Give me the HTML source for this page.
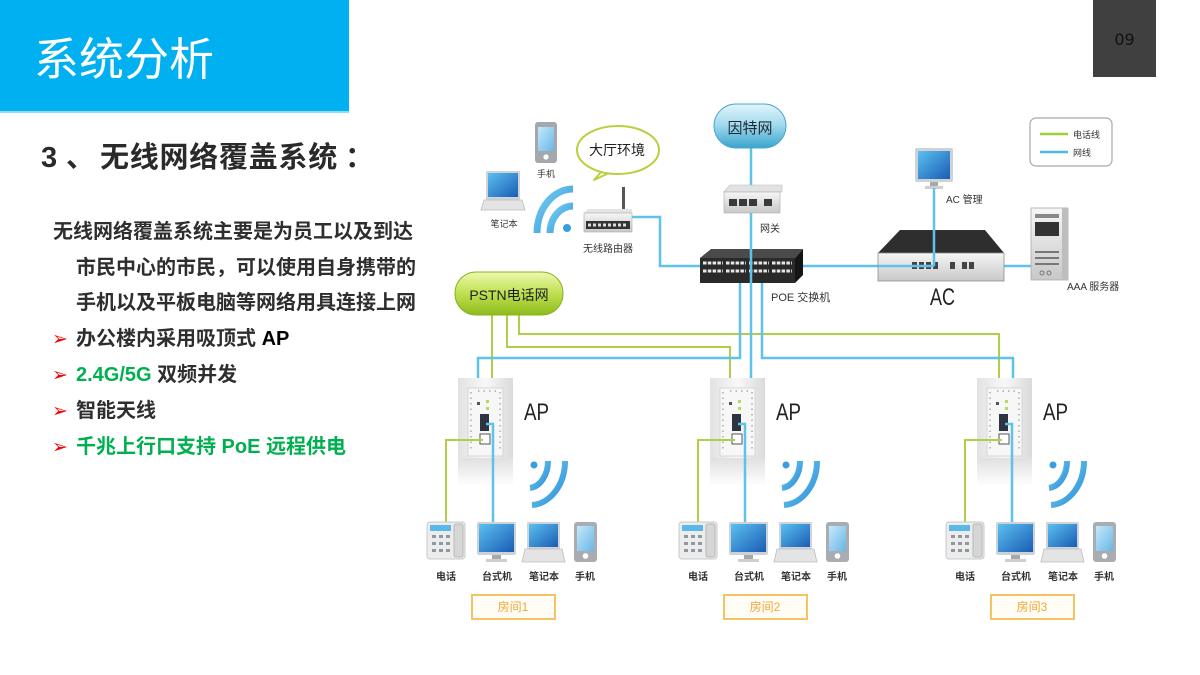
<!DOCTYPE html>
<html><head><meta charset="utf-8">
<style>
body{margin:0;width:1200px;height:675px;position:relative;overflow:hidden;background:#fff;font-family:"Liberation Sans","Noto Sans CJK SC",sans-serif;}
.hdr{position:absolute;left:0;top:0;width:349px;height:111px;background:#00b0f0;border-bottom:2px solid #8fdaf6;}
.title{position:absolute;left:34px;top:33px;font-size:45px;line-height:45px;color:#fff;font-family:"Noto Sans CJK SC",sans-serif;white-space:nowrap;}
.pg{position:absolute;left:1093px;top:0;width:63px;height:77px;background:#404040;color:#111;font-size:16px;text-align:center;line-height:80px;font-family:"DejaVu Sans",sans-serif;}
.sub{position:absolute;top:144px;font-size:29px;line-height:29px;color:#2a2a2a;font-weight:bold;white-space:nowrap;font-family:"Liberation Sans","Noto Sans CJK SC",sans-serif;}
.ln{position:absolute;font-size:20px;line-height:20px;color:#2e2e2e;font-weight:bold;white-space:nowrap;font-family:"Liberation Sans","Noto Sans CJK SC",sans-serif;}
.bl{position:absolute;left:52px;font-size:19px;line-height:20px;color:#ff0000;font-family:"DejaVu Sans",sans-serif;}
.g{color:#00b050;}
.k{color:#000;}
</style></head>
<body>
<div class="hdr"></div>
<div class="title">系统分析</div>
<div class="pg">09</div>

<div class="sub" style="left:41px">3</div>
<div class="sub" style="left:66px">、</div>
<div class="sub" style="left:100px;letter-spacing:0.75px">无线网络覆盖系统</div>
<div class="sub" style="left:345px">：</div>

<div class="ln" style="left:53px;top:222px">无线网络覆盖系统主要是为员工以及到达</div>
<div class="ln" style="left:76px;top:258px">市民中心的市民，可以使用自身携带的</div>
<div class="ln" style="left:76px;top:293px">手机以及平板电脑等网络用具连接上网</div>
<div class="bl" style="top:329px">➢</div>
<div class="ln" style="left:76px;top:329px">办公楼内采用吸顶式 <span class="k">AP</span></div>
<div class="bl" style="top:365px">➢</div>
<div class="ln" style="left:76px;top:365px"><span class="g">2.4G/5G</span> 双频并发</div>
<div class="bl" style="top:401px">➢</div>
<div class="ln" style="left:76px;top:401px">智能天线</div>
<div class="bl" style="top:437px">➢</div>
<div class="ln g" style="left:76px;top:437px">千兆上行口支持 PoE 远程供电</div>

<svg width="1200" height="675" viewBox="0 0 1200 675" style="position:absolute;left:0;top:0" font-family="Liberation Sans, Noto Sans CJK SC, sans-serif">
<defs>
<linearGradient id="gCloud" x1="0" y1="0" x2="0" y2="1"><stop offset="0" stop-color="#e2f5fb"/><stop offset=".45" stop-color="#a6dcef"/><stop offset="1" stop-color="#3aa3cd"/></linearGradient>
<linearGradient id="gPstn" x1="0" y1="0" x2="0" y2="1"><stop offset="0" stop-color="#eef8b0"/><stop offset=".5" stop-color="#bfe050"/><stop offset="1" stop-color="#8dbb1c"/></linearGradient>
<linearGradient id="gScr" x1="0" y1="0" x2="1" y2="1"><stop offset="0" stop-color="#5bc0ef"/><stop offset="1" stop-color="#1a5cb5"/></linearGradient>
<linearGradient id="gMob" x1="0" y1="0" x2="1" y2="1"><stop offset="0" stop-color="#c6e8fa"/><stop offset="1" stop-color="#6ab6e6"/></linearGradient>
<linearGradient id="gAP" x1="0" y1="0" x2="1" y2="0"><stop offset="0" stop-color="#e2e2e2"/><stop offset=".5" stop-color="#f8f8f8"/><stop offset="1" stop-color="#dadada"/></linearGradient>
<linearGradient id="gRefl" x1="0" y1="0" x2="0" y2="1"><stop offset="0" stop-color="#e0e0e0"/><stop offset="1" stop-color="#ffffff"/></linearGradient>
<linearGradient id="gWifi" x1="0" y1="0" x2="1" y2="1"><stop offset="0" stop-color="#7ad0f2"/><stop offset="1" stop-color="#2a8fd8"/></linearGradient>
<linearGradient id="gGray" x1="0" y1="0" x2="0" y2="1"><stop offset="0" stop-color="#f6f6f6"/><stop offset="1" stop-color="#c8c8c8"/></linearGradient>
<g id="room">
  <rect x="458" y="458" width="55" height="28" fill="url(#gRefl)"/>
  <rect x="458" y="378" width="55" height="80" fill="url(#gAP)"/>
  <rect x="468" y="388" width="35" height="68" fill="#f7f7f7" stroke="#cfcfcf" stroke-width="0.8"/>
  <g stroke="#9a9a9a" stroke-width="1.2">
    <line x1="471" y1="392" x2="471" y2="452" stroke-dasharray="1.5 4"/>
    <line x1="500" y1="392" x2="500" y2="452" stroke-dasharray="1.5 4"/>
    <line x1="478" y1="391" x2="496" y2="391" stroke-dasharray="1.5 4"/>
  </g>
  <rect x="477" y="402" width="3" height="3" fill="#555"/>
  <rect x="486" y="400" width="3" height="3" fill="#b8d860"/>
  <rect x="486" y="407" width="3" height="3" fill="#b8d860"/>
  <rect x="480" y="414" width="9" height="17" fill="#2c3440"/>
  <rect x="480" y="434" width="10" height="10" fill="#fff" stroke="#555" stroke-width="1"/>
  <path d="M548 461 A20 27 0 0 1 530 488" fill="none" stroke="url(#gWifi)" stroke-width="6"/>
  <path d="M565 461 A35 44 0 0 1 532 505" fill="none" stroke="url(#gWifi)" stroke-width="6"/>
  <circle cx="534" cy="465" r="3.5" fill="#3a9ede"/>
  <path d="M486 424 H493 V522" fill="none" stroke="#5ec2ea" stroke-width="2.5"/>
  <path d="M483 440 H446 V522" fill="none" stroke="#afd046" stroke-width="2"/>
  <rect x="427" y="522" width="38" height="37" rx="3" fill="#ececec" stroke="#c8c8c8"/>
  <rect x="430" y="525" width="21" height="6" fill="#5ab8e8"/>
  <g fill="#8e98a0">
    <rect x="432" y="535" width="4" height="3"/><rect x="439" y="535" width="4" height="3"/><rect x="446" y="535" width="4" height="3"/>
    <rect x="432" y="542" width="4" height="3"/><rect x="439" y="542" width="4" height="3"/><rect x="446" y="542" width="4" height="3"/>
    <rect x="432" y="549" width="4" height="3"/><rect x="439" y="549" width="4" height="3"/><rect x="446" y="549" width="4" height="3"/>
  </g>
  <rect x="454" y="524" width="9" height="33" rx="2" fill="#d6d6d6" stroke="#b8b8b8"/>
  <rect x="477" y="522" width="39" height="33" rx="2" fill="#cdd2d7"/>
  <rect x="479" y="524" width="35" height="28" fill="url(#gScr)"/>
  <rect x="492" y="555" width="9" height="4" fill="#a8a8a8"/>
  <rect x="486" y="559" width="21" height="3" fill="#cfcfcf"/>
  <rect x="527" y="522" width="33" height="27" rx="1.5" fill="#d0d4d8"/>
  <rect x="529" y="524" width="29" height="23" fill="url(#gScr)"/>
  <polygon points="525,549 562,549 565,562 522,562" fill="#e4e4e4" stroke="#bcbcbc" stroke-width="0.8"/>
  <rect x="574" y="522" width="23" height="40" rx="3" fill="#a9adb1"/>
  <rect x="577" y="526" width="17" height="25" fill="url(#gMob)"/>
  <circle cx="585.5" cy="556" r="2.8" fill="#fff"/>
  <rect x="472" y="595" width="83" height="24" fill="#fffdf6" stroke="#f5c462" stroke-width="2"/>
</g>
</defs>

<g fill="none" stroke="#afd046" stroke-width="2">
  <path d="M492 315 V380"/>
  <path d="M507 315 V347 H730 V380"/>
  <path d="M519 315 V334 H999 V380"/>
</g>
<g fill="none" stroke="#5ec2ea" stroke-width="2.5">
  <path d="M751 148 V249"/>
  <path d="M632 217 H660 V266 H700"/>
  <path d="M803 266 H878"/>
  <path d="M1004 266 H1032"/>
  <path d="M740 283 V358 H478 V380"/>
  <path d="M751 283 V380"/>
  <path d="M762 283 V358 H1013 V380"/>
</g>

<rect x="714" y="104" width="72" height="44" rx="22" fill="url(#gCloud)" stroke="#4aa6cc" stroke-width="1"/>
<text x="750" y="133" font-size="15" text-anchor="middle" fill="#1e2a30">因特网</text>

<polygon points="724,192 730,185 782,185 782,192" fill="#e2e2e2" stroke="#bbb" stroke-width="0.6"/>
<rect x="724" y="192" width="56" height="21" fill="url(#gGray)" stroke="#aaa" stroke-width="0.6"/>
<g fill="#3a3a3a"><rect x="729" y="199" width="8" height="7"/><rect x="739" y="199" width="8" height="7"/><rect x="749" y="199" width="8" height="7"/><rect x="764" y="199" width="8" height="7"/></g>
<text x="770" y="232" font-size="10" text-anchor="middle" fill="#333">网关</text>

<polygon points="700,258 711,249 803,249 795,258" fill="#4a4a4a"/>
<rect x="700" y="258" width="95" height="25" fill="#2a2a2a"/>
<polygon points="795,258 803,249 803,275 795,283" fill="#151515"/>
<g stroke="#e8e8e8" stroke-width="3" stroke-dasharray="3.5 1.3">
  <line x1="703" y1="263" x2="723" y2="263"/><line x1="726" y1="263" x2="746" y2="263"/><line x1="749" y1="263" x2="769" y2="263"/><line x1="772" y1="263" x2="792" y2="263"/>
  <line x1="703" y1="271" x2="723" y2="271"/><line x1="726" y1="271" x2="746" y2="271"/><line x1="749" y1="271" x2="769" y2="271"/><line x1="772" y1="271" x2="792" y2="271"/>
</g>
<path d="M751 249 V283" stroke="#5ec2ea" stroke-width="2.5"/>
<text x="771" y="301" font-size="11" fill="#333">POE 交换机</text>

<rect x="622" y="187" width="3" height="24" fill="#555"/>
<polygon points="584,213 588,209 632,209 632,213" fill="#e4e4e4"/>
<rect x="584" y="213" width="48" height="19" fill="url(#gGray)" stroke="#aaa" stroke-width="0.6"/>
<rect x="586" y="221" width="44" height="8" fill="#333"/>
<line x1="588" y1="225" x2="628" y2="225" stroke="#ddd" stroke-width="3" stroke-dasharray="3 2"/>
<text x="608" y="252" font-size="10" text-anchor="middle" fill="#333">无线路由器</text>

<path d="M537 233 A36 44 0 0 1 573 189" fill="none" stroke="url(#gWifi)" stroke-width="7"/>
<path d="M550 233 A23 27 0 0 1 573 206" fill="none" stroke="url(#gWifi)" stroke-width="7"/>
<circle cx="567" cy="228" r="4" fill="#3a9ede"/>

<rect x="535" y="122" width="22" height="41" rx="3" fill="#a4a8ac"/>
<rect x="538" y="127" width="16" height="24" fill="url(#gMob)"/>
<circle cx="546" cy="157" r="2.6" fill="#fff"/>
<text x="546" y="177" font-size="9" text-anchor="middle" fill="#333">手机</text>
<rect x="486" y="171" width="34" height="29" rx="1.5" fill="#d0d4d8"/>
<rect x="488" y="173" width="30" height="24" fill="url(#gScr)"/>
<polygon points="484,200 522,200 525,210 481,210" fill="#e4e4e4" stroke="#bcbcbc" stroke-width="0.8"/>
<text x="504" y="227" font-size="9" text-anchor="middle" fill="#333">笔记本</text>

<path d="M603 170 L594 180 L611 172" fill="#fff" stroke="#b8d040" stroke-width="2" stroke-linejoin="round"/>
<ellipse cx="618" cy="150" rx="41" ry="24" fill="#fff" stroke="#b8d040" stroke-width="2"/>
<path d="M601 169 L604 172 L611 171" fill="#fff" stroke="none"/>
<text x="617" y="155" font-size="14" text-anchor="middle" fill="#222">大厅环境</text>

<rect x="455" y="272" width="108" height="43" rx="21" fill="url(#gPstn)" stroke="#84b41a" stroke-width="1"/>
<text x="509" y="300" font-size="14" text-anchor="middle" fill="#1e1e1e">PSTN电话网</text>

<rect x="915" y="148" width="38" height="34" rx="2" fill="#cdd2d7"/>
<rect x="918" y="151" width="32" height="28" fill="url(#gScr)"/>
<rect x="930" y="182" width="8" height="4" fill="#a8a8a8"/>
<rect x="925" y="186" width="18" height="3" fill="#cfcfcf"/>
<text x="946" y="203" font-size="10" fill="#333">AC 管理</text>

<polygon points="878,253 900,230 985,230 1004,253" fill="#2e2e2e"/>
<rect x="878" y="253" width="126" height="28" fill="url(#gGray)" stroke="#8e8e8e" stroke-width="0.8"/>
<g fill="#444"><rect x="912" y="262" width="5" height="7"/><rect x="919" y="262" width="5" height="7"/><rect x="926" y="262" width="5" height="7"/><rect x="933" y="262" width="5" height="7"/><rect x="950" y="262" width="5" height="7"/><rect x="962" y="262" width="5" height="7"/><rect x="969" y="262" width="5" height="7"/></g>
<path d="M878 266 H934" stroke="#5ec2ea" stroke-width="2.5"/>
<path d="M934 188 V266" stroke="#5ec2ea" stroke-width="2.5"/>
<text x="930" y="305" font-size="24" fill="#222" textLength="25" lengthAdjust="spacingAndGlyphs">AC</text>

<rect x="1031" y="208" width="37" height="72" fill="url(#gGray)" stroke="#aaa" stroke-width="0.8"/>
<polygon points="1062,208 1068,208 1068,280 1062,280" fill="#bdbdbd"/>
<rect x="1035" y="214" width="24" height="4" fill="#888"/>
<rect x="1035" y="222" width="24" height="14" fill="#333"/>
<g stroke="#777" stroke-width="2"><line x1="1035" y1="252" x2="1059" y2="252"/><line x1="1035" y1="258" x2="1059" y2="258"/><line x1="1035" y1="264" x2="1059" y2="264"/></g>
<circle cx="1042" cy="273" r="2" fill="none" stroke="#777"/><circle cx="1049" cy="273" r="2" fill="none" stroke="#777"/>
<text x="1067" y="290" font-size="10" fill="#333">AAA 服务器</text>

<rect x="1030" y="118" width="82" height="48" rx="6" fill="#fff" stroke="#a8a8a8" stroke-width="1.2"/>
<line x1="1040" y1="134" x2="1068" y2="134" stroke="#9cd03a" stroke-width="2.5"/>
<line x1="1040" y1="152" x2="1068" y2="152" stroke="#4cb8e6" stroke-width="2.5"/>
<text x="1073" y="138" font-size="9" fill="#333">电话线</text>
<text x="1073" y="156" font-size="9" fill="#333">网线</text>

<use href="#room"/>
<use href="#room" x="252"/>
<use href="#room" x="519"/>

<g font-size="10" fill="#333" text-anchor="middle" font-weight="bold">
  <text x="446" y="580">电话</text><text x="497" y="580">台式机</text><text x="544" y="580">笔记本</text><text x="585" y="580">手机</text>
  <text x="698" y="580">电话</text><text x="749" y="580">台式机</text><text x="796" y="580">笔记本</text><text x="837" y="580">手机</text>
  <text x="965" y="580">电话</text><text x="1016" y="580">台式机</text><text x="1063" y="580">笔记本</text><text x="1104" y="580">手机</text>
</g>
<g font-size="24" fill="#222">
  <text x="524" y="420" textLength="25" lengthAdjust="spacingAndGlyphs">AP</text>
  <text x="776" y="420" textLength="25" lengthAdjust="spacingAndGlyphs">AP</text>
  <text x="1043" y="420" textLength="25" lengthAdjust="spacingAndGlyphs">AP</text>
</g>
<g font-size="12" fill="#f0a830" text-anchor="middle">
  <text x="513" y="611">房间1</text>
  <text x="765" y="611">房间2</text>
  <text x="1032" y="611">房间3</text>
</g>
</svg>
</body></html>
